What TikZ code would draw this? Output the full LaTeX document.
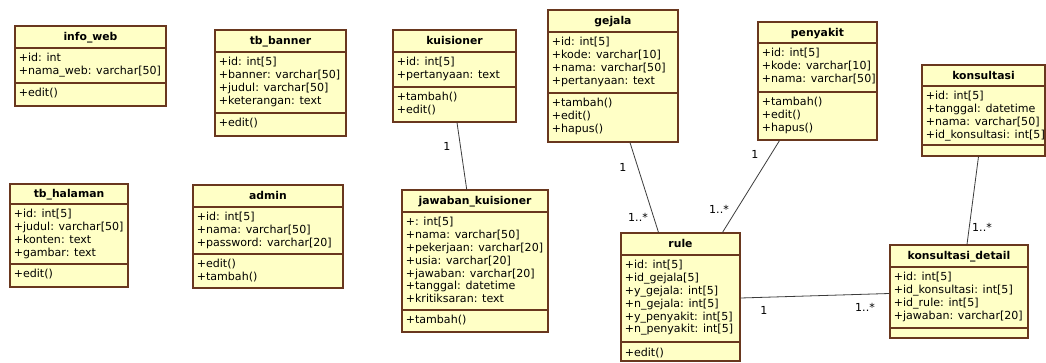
\documentclass[tikz,border=0pt]{standalone}
\usepackage{fontspec}
\setmainfont{DejaVu Sans}
\usetikzlibrary{fit,calc}
\definecolor{classfill}{RGB}{255,255,198}
\definecolor{classline}{RGB}{105,55,30}
\definecolor{linkcol}{RGB}{60,60,60}
\newcommand\memfont{\fontsize{8.3}{9.8}\selectfont}
\newcommand\ttlfont{\fontsize{8.1}{10}\selectfont\bfseries}
\tikzset{
  classbox/.style={draw=classline, fill=classfill, line width=0.9pt, inner sep=0pt},
  sepline/.style={draw=classline, line width=0.9pt},
  member/.style={anchor=base west, inner sep=0pt, font=\memfont},
  classtitle/.style={anchor=base, inner sep=0pt, font=\ttlfont},
  assoc/.style={draw=linkcol, line width=0.6pt},
  mult/.style={inner sep=0pt, font=\memfont},
}
% \umlclass{name}{x1}{y1}{x2}{y2}{y header}{y attrs}{title}{attributes}
\newcommand\umlclass[9]{%
  \node[classbox, fit={(#2,#3) (#4,#5)}] (#1) {};
  \draw[sepline] (#2,#6) -- (#4,#6);
  \draw[sepline] (#2,#7) -- (#4,#7);
  \node[classtitle] (#1-title) at ({(#2+#4)/2},{(#3+#6)/2+4}) {#8};
  \foreach \t [count=\i] in {#9} {\node[member] (#1-a\i) at ({#2+3.5},{#6+14+12.8*(\i-1)}) {\t};}
  \coordinate (#1-m) at ({#2+3.5},{#7+14});
}
\newcommand\umlops[2]{\foreach \t [count=\i] in {#2} {\node[member] (#1-o\i) at ($(#1-m)+(0,{12.8*(\i-1)})$) {\t};}}
\begin{document}
\begin{tikzpicture}[x=0.75pt,y=-0.75pt]
\fill[white] (0,0) rectangle (1046,363);
\useasboundingbox (0,0) rectangle (1046,363);

\umlclass{infoweb}{15}{26}{166}{106}{48}{83}{info\_web}{+id: int, +nama\_web: varchar[50]}
\umlops{infoweb}{+edit()}

\umlclass{tbbanner}{215}{30}{346}{136}{52}{113}{tb\_banner}{+id: int[5], +banner: varchar[50], +judul: varchar[50], +keterangan: text}
\umlops{tbbanner}{+edit()}

\umlclass{kuisioner}{393}{30}{516}{122}{52}{87}{kuisioner}{+id: int[5], +pertanyaan: text}
\umlops{kuisioner}{+tambah(), +edit()}

\umlclass{gejala}{548}{10}{678}{142}{32}{93}{gejala}{+id: int[5], +kode: varchar[10], +nama: varchar[50], +pertanyaan: text}
\umlops{gejala}{+tambah(), +edit(), +hapus()}

\umlclass{penyakit}{758}{22}{877}{140}{43}{92}{penyakit}{+id: int[5], +kode: varchar[10], +nama: varchar[50]}
\umlops{penyakit}{+tambah(), +edit(), +hapus()}

\umlclass{konsultasi}{922}{65}{1045}{156}{86}{145}{konsultasi}{+id: int[5], +tanggal: datetime, +nama: varchar[50], +id\_konsultasi: int[5]}

\umlclass{tbhalaman}{10}{184}{128}{287}{204}{264}{tb\_halaman}{+id: int[5], +judul: varchar[50], +konten: text, +gambar: text}
\umlops{tbhalaman}{+edit()}

\umlclass{admin}{193}{185}{343}{288}{207}{254}{admin}{+id: int[5], +nama: varchar[50], +password: varchar[20]}
\umlops{admin}{+edit(), +tambah()}

\umlclass{jawaban}{402}{190}{548}{332}{212}{310}{jawaban\_kuisioner}{+: int[5], +nama: varchar[50], +pekerjaan: varchar[20], +usia: varchar[20], +jawaban: varchar[20], +tanggal: datetime, +kritiksaran: text}
\umlops{jawaban}{+tambah()}

\umlclass{rule}{621}{233}{740}{361}{255}{342}{rule}{+id: int[5], +id\_gejala[5], +y\_gejala: int[5], +n\_gejala: int[5], +y\_penyakit: int[5], +n\_penyakit: int[5]}
\umlops{rule}{+edit()}

\umlclass{kdetail}{890}{245}{1028}{338}{267}{328}{konsultasi\_detail}{+id: int[5], +id\_konsultasi: int[5], +id\_rule: int[5], +jawaban: varchar[20]}

\draw[assoc] ([shift={(2.5,0)}]kuisioner.south) -- ([shift={(-8.3,0)}]jawaban.north);
\draw[assoc] ([shift={(17,0)}]gejala.south) -- ([shift={(-22,0)}]rule.north);
\draw[assoc] ([shift={(-38,0)}]penyakit.south) -- ([shift={(42,0)}]rule.north);
\draw[assoc] ([shift={(0,1)}]rule.east) -- ([shift={(0,2)}]kdetail.west);
\draw[assoc] ([shift={(-5,0)}]konsultasi.south) -- ([shift={(8,0)}]kdetail.north);

\node[mult] (m1) at (447,146) {1};
\node[mult] (m2) at (623,167) {1};
\node[mult] (m3) at (638,217) {1..*};
\node[mult] (m4) at (755,154) {1};
\node[mult] (m5) at (719,209) {1..*};
\node[mult] (m6) at (764,310) {1};
\node[mult] (m7) at (865,307) {1..*};
\node[mult] (m8) at (982,227) {1..*};
\end{tikzpicture}
\end{document}
